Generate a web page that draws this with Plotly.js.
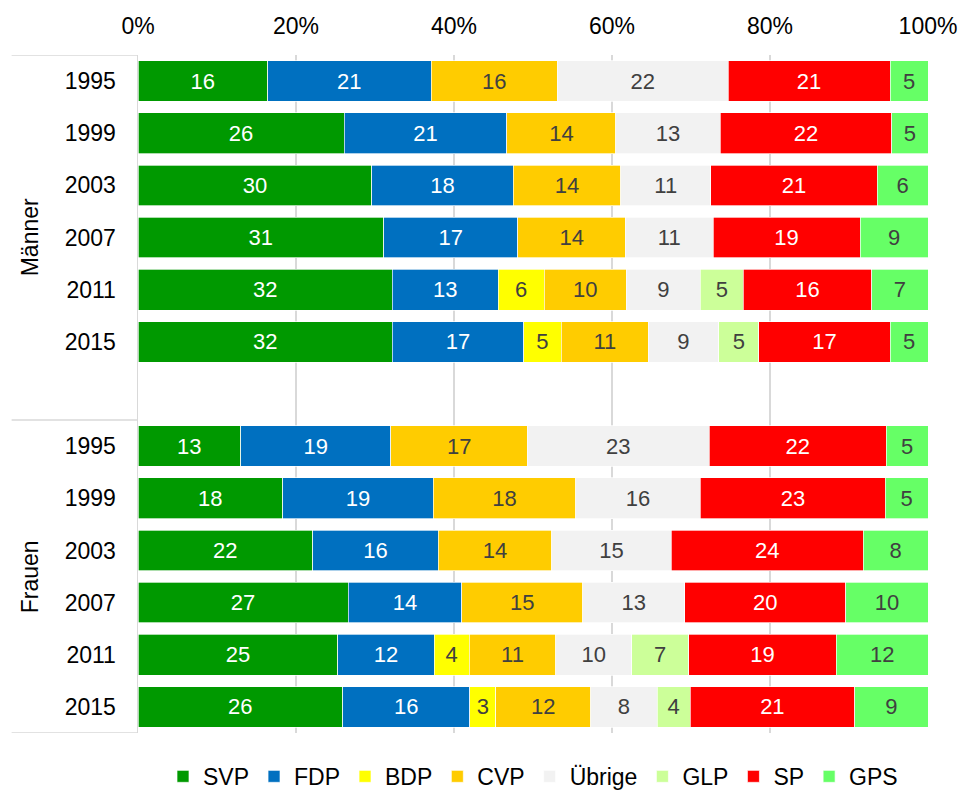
<!DOCTYPE html>
<html>
<head>
<meta charset="utf-8">
<script src="https://cdn.plot.ly/plotly-3.0.1.min.js"></script>
<style>
  html, body { margin: 0; padding: 0; background: #ffffff; }
  #chart { width: 960px; height: 792px; }
</style>
</head>
<body>
<div id="chart"></div>
<script>
// ---- data (shares in %, Männer 1995..2015 followed by Frauen 1995..2015) ----
const years = ['1995', '1999', '2003', '2007', '2011', '2015'];
const groups = ['Männer', 'Frauen'];

const SVP    = [16.4, 26.1, 29.6, 31.1, 32.2, 32.2,   13.0, 18.3, 22.1, 26.6, 25.3, 25.9];
const FDP    = [20.7, 20.6, 17.9, 17.0, 13.4, 16.6,   19.0, 19.1, 15.9, 14.4, 12.2, 16.1];
const BDP    = [null, null, null, null, 5.8, 4.8,     null, null, null, null, 4.4, 3.3];
const CVP    = [16.0, 13.8, 13.6, 13.6, 10.4, 11.0,   17.3, 18.0, 14.4, 15.3, 11.0, 12.0];
const Uebrige= [21.6, 13.2, 11.4, 11.1, 9.4, 8.9,     23.0, 15.8, 15.1, 12.9, 9.6, 8.4];
const GLP    = [null, null, null, null, 5.4, 5.1,     null, null, null, null, 7.2, 4.2];
const SP     = [20.5, 21.7, 21.1, 18.6, 16.3, 16.6,   22.4, 23.4, 24.3, 20.4, 18.7, 20.8];
const GPS    = [4.8, 4.6, 6.4, 8.6, 7.1, 4.8,         5.3, 5.4, 8.2, 10.4, 11.6, 9.3];

const seriesNames  = ['SVP', 'FDP', 'BDP', 'CVP', 'Übrige', 'GLP', 'SP', 'GPS'];
const seriesValues = [SVP, FDP, BDP, CVP, Uebrige, GLP, SP, GPS];
const seriesColors = ['#009900', '#0070C0', '#FFFF00', '#FFCC00', '#F2F2F2', '#CCFF99', '#FF0000', '#66FF66'];
const textColors   = ['#ffffff', '#ffffff', '#404040', '#404040', '#404040', '#404040', '#ffffff', '#404040'];

const FONT = 'Liberation Sans, Arial, sans-serif';

// ---- category slots: each group has its years, with one empty slot between groups ----
const slotsPerGroup = years.length + 1;
const yPos = [];
const tickVals = [];
const tickText = [];
groups.forEach((g, gi) => {
  years.forEach((yr, yi) => {
    const p = gi * slotsPerGroup + yi;
    yPos.push(p);
    tickVals.push(p);
    tickText.push(yr);
  });
});
const nSlots = groups.length * slotsPerGroup - 1;

const traces = seriesNames.map((name, i) => ({
  type: 'bar',
  orientation: 'h',
  name: name,
  x: seriesValues[i],
  y: yPos,
  text: seriesValues[i].map(v => (v == null ? '' : String(Math.round(v)))),
  texttemplate: '%{text}',
  textposition: 'inside',
  insidetextanchor: 'middle',
  textangle: 0,
  constraintext: 'none',
  textfont: { family: FONT, size: 22, color: textColors[i] },
  marker: { color: seriesColors[i], line: { color: 'rgba(255,255,255,0.85)', width: 0.8 } },
  hoverinfo: 'skip'
}));

// group separators and labels
const shapes = [];
const annotations = [];
const lineAt = [-0.5];
groups.forEach((g, gi) => {
  const start = gi * slotsPerGroup - 0.5;
  const end = gi === groups.length - 1 ? nSlots - 0.5 : start + slotsPerGroup;
  lineAt.push(end);
  annotations.push({
    text: g,
    xref: 'paper', yref: 'y',
    x: -0.137, y: (start + end) / 2,
    textangle: -90,
    showarrow: false,
    xanchor: 'center', yanchor: 'middle',
    font: { family: FONT, size: 23, color: '#000000' }
  });
});
lineAt.forEach(yv => {
  shapes.push({
    type: 'line', xref: 'paper', yref: 'y',
    x0: -0.16, x1: 0, y0: yv, y1: yv,
    line: { color: '#D9D9D9', width: 1.5 }
  });
});

const layout = {
  width: 960,
  height: 792,
  margin: { l: 138, r: 32, t: 55, b: 59, autoexpand: false },
  paper_bgcolor: '#ffffff',
  plot_bgcolor: '#ffffff',
  barmode: 'stack',
  barnorm: 'percent',
  bargap: 0.22,
  font: { family: FONT, size: 23, color: '#000000' },
  xaxis: {
    side: 'top',
    range: [0, 100],
    tickvals: [0, 20, 40, 60, 80, 100],
    ticktext: ['0%', '20%', '40%', '60%', '80%', '100%'],
    showgrid: true,
    gridcolor: '#D9D9D9',
    gridwidth: 1.5,
    zeroline: false,
    showline: false,
    ticks: '',
    ticklabelstandoff: 15,
    tickfont: { family: FONT, size: 23, color: '#000000' },
    fixedrange: true
  },
  yaxis: {
    range: [nSlots - 0.5, -0.5],
    tickvals: tickVals,
    ticktext: tickText,
    showgrid: false,
    zeroline: false,
    showline: true,
    linecolor: '#D9D9D9',
    linewidth: 1.5,
    ticks: '',
    ticklabelstandoff: 16,
    tickfont: { family: FONT, size: 23, color: '#000000' },
    fixedrange: true
  },
  legend: {
    orientation: 'h',
    x: 0.5, xanchor: 'center',
    y: -0.064, yanchor: 'middle',
    traceorder: 'normal',
    font: { family: FONT, size: 23, color: '#000000' },
    itemclick: false, itemdoubleclick: false
  },
  shapes: shapes,
  annotations: annotations,
  showlegend: true
};

Plotly.newPlot('chart', traces, layout, { displayModeBar: false, staticPlot: true });
</script>
</body>
</html>
